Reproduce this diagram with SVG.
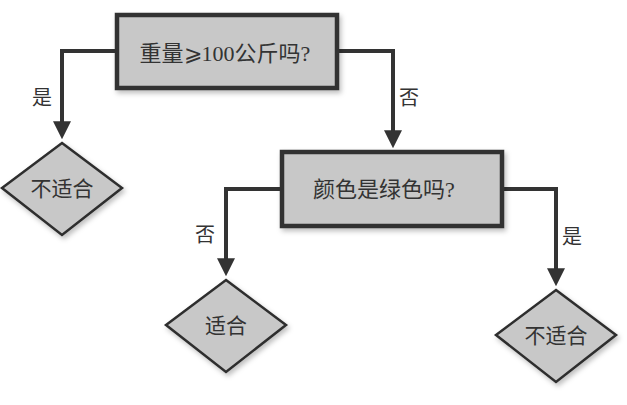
<svg xmlns="http://www.w3.org/2000/svg" width="627" height="405" viewBox="0 0 627 405">
<style>
.box{fill:#c8c8c8;stroke:#333;stroke-width:4.5}
.dia{fill:#c8c8c8;stroke:#2d2d2d;stroke-width:2.5}
.con{fill:none;stroke:#333;stroke-width:4}
text{font-family:"Liberation Serif","Noto Sans CJK SC",serif;fill:#333;text-anchor:middle}
.t{font-size:21px}
.t2{font-size:22px}
.l{font-size:20px}
</style>
<defs>
<filter id="sh" x="-10%" y="-10%" width="130%" height="130%">
<feDropShadow dx="2" dy="3" stdDeviation="2.5" flood-color="#000" flood-opacity="0.25"/>
</filter>
<marker id="ah" markerWidth="4.5" markerHeight="4.5" refX="3.2" refY="2.25" orient="auto" markerUnits="strokeWidth">
<path d="M0,0 L4.5,2.25 L0,4.5 Z" fill="#333"/>
</marker>
</defs>
<g id="connectors">
<polyline class="con" points="117,51 62,51 62,134" marker-end="url(#ah)"/>
<polyline class="con" points="337,51 393,51 393,143" marker-end="url(#ah)"/>
<polyline class="con" points="282,189 226,189 226,271" marker-end="url(#ah)"/>
<polyline class="con" points="502,189 556,189 556,281" marker-end="url(#ah)"/>
<text class="l" x="42" y="105">是</text>
<text class="l" x="409" y="105">否</text>
<text class="l" x="205" y="242">否</text>
<text class="l" x="572" y="244">是</text>
</g>
<g id="n1">
<rect class="box" x="117" y="15" width="220" height="73" filter="url(#sh)"/>
<text class="t2" x="225" y="61">重量⩾100公斤吗?</text>
</g>
<g id="n2">
<polygon class="dia" points="62,143 122,188 62,235 2,188" filter="url(#sh)"/>
<text class="t" x="62" y="196">不适合</text>
</g>
<g id="n3">
<rect class="box" x="282" y="152" width="220" height="74" filter="url(#sh)"/>
<text class="t2" x="384" y="197">颜色是绿色吗?</text>
</g>
<g id="n4">
<polygon class="dia" points="226,280 286,325 226,372 166,325" filter="url(#sh)"/>
<text class="t" x="226" y="333">适合</text>
</g>
<g id="n5">
<polygon class="dia" points="556,290 616,335 556,382 496,335" filter="url(#sh)"/>
<text class="t" x="556" y="343">不适合</text>
</g>
</svg>
